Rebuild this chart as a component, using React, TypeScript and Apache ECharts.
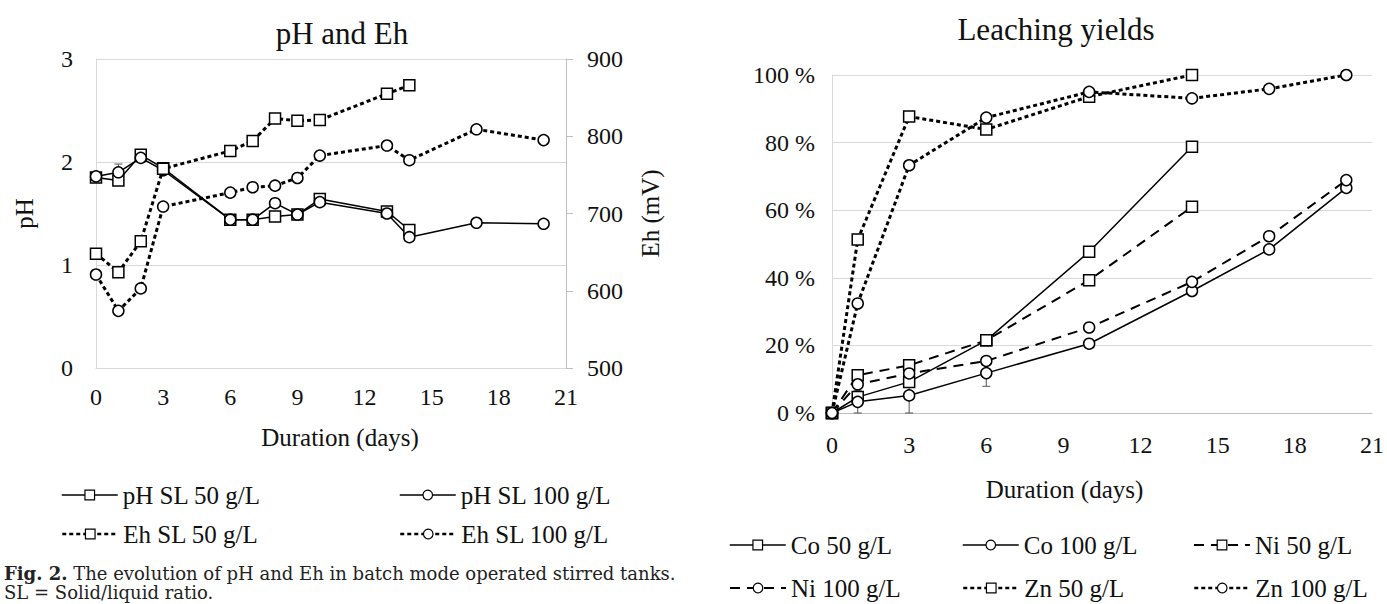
import React, { useEffect, useRef } from "react";
import * as echarts from "echarts";

// ---------- data: pH and Eh ----------
const daysSL50 = [0, 1, 2, 3, 6, 7, 8, 9, 10, 13, 14];
const daysSL100 = [0, 1, 2, 3, 6, 7, 8, 9, 10, 13, 14, 17, 20];
const pH50 = [1.85, 1.82, 2.07, 1.94, 1.44, 1.44, 1.47, 1.49, 1.64, 1.52, 1.34];
const pH100 = [1.86, 1.9, 2.04, 1.92, 1.44, 1.44, 1.6, 1.49, 1.61, 1.5, 1.27, 1.41, 1.4];
const eh50 = [648, 624, 664, 758, 781, 794, 823, 820, 821, 855, 866];
const eh100 = [621, 574, 603, 709, 727, 734, 736, 746, 775, 788, 769, 809, 795];
const pHErr100 = [[1, 1.82, 1.98]];

// ---------- data: leaching yields (%) ----------
const days50 = [0, 1, 3, 6, 10, 14];
const days100 = [0, 1, 3, 6, 10, 14, 17, 20];
const co50 = [0, 4.7, 9.2, 21.5, 47.7, 78.8];
const co100 = [0, 3.3, 5.2, 11.8, 20.5, 36.1, 48.4, 66.6];
const ni50 = [0, 11.2, 14.1, 21.5, 39.3, 61.0];
const ni100 = [0, 8.5, 11.7, 15.4, 25.3, 38.8, 52.3, 68.9];
const zn50 = [0, 51.3, 87.7, 83.9, 93.6, 100];
const zn100 = [0, 32.4, 73.3, 87.4, 95.0, 93.1, 95.9, 100];
const coErr100 = [
  [1, 0, 6.6],
  [3, 0, 10.4],
  [6, 7.9, 15.7],
];

const dayTicksInterval = 3;
const pHTicks = { min: 0, max: 3, interval: 1 };
const ehTicks = { min: 500, max: 900, interval: 100 };
const yieldTicks = { min: 0, max: 100, interval: 20 };

const FONT = "'Liberation Serif', 'Times New Roman', serif";
const CAPFONT = "'DejaVu Serif', serif";
const INK = "#111";
const GRID = "#d9d9d9";
const AXIS = "#bfbfbf";

const pair = (xs: number[], ys: number[]) => xs.map((x, i) => [x, ys[i]]);

const SOLID = { width: 1.5, type: "solid" as any };
const DOTTED = { width: 3, type: [4, 3] as any };
const DASHED = { width: 2, type: [10, 7] as any };

function lineSeries(
  name: string,
  data: number[][],
  symbol: string,
  ls: any,
  xAxisIndex: number,
  yAxisIndex: number
) {
  return {
    name,
    type: "line",
    xAxisIndex,
    yAxisIndex,
    data,
    symbol,
    symbolSize: 11,
    showSymbol: true,
    clip: false,
    z: 3,
    lineStyle: { color: "#000", width: ls.width, type: ls.type },
    itemStyle: { color: "#fff", borderColor: "#000", borderWidth: 1.5 },
    emphasis: { disabled: true },
  };
}

const errRender = (params: any, api: any) => {
  const x = api.value(0);
  const lo = api.value(1);
  const hi = api.value(2);
  const a = api.coord([x, lo]);
  const b = api.coord([x, hi]);
  const w = 4;
  const style = { stroke: "#555", lineWidth: 1 };
  return {
    type: "group",
    children: [
      { type: "line", shape: { x1: a[0], y1: a[1], x2: b[0], y2: b[1] }, style },
      { type: "line", shape: { x1: a[0] - w, y1: a[1], x2: a[0] + w, y2: a[1] }, style },
      { type: "line", shape: { x1: b[0] - w, y1: b[1], x2: b[0] + w, y2: b[1] }, style },
    ],
  };
};

const LEGEND_FS = 25;
function legendItem(name: string, left: number, centerY: number, lw: number) {
  return {
    data: [name],
    left,
    top: centerY - LEGEND_FS / 2,
    padding: 0,
    itemGap: 0,
    itemWidth: 56,
    itemHeight: 12,
    selectedMode: false,
    textStyle: { fontSize: LEGEND_FS, fontFamily: FONT, color: INK },
    lineStyle: { width: lw },
    itemStyle: { borderWidth: 1.2 },
  };
}

const axisText = { fontSize: 24, fontFamily: FONT, color: INK };
const nameText = { fontSize: 25, fontFamily: FONT, color: INK };

export default function App() {
  const ref = useRef<HTMLDivElement>(null);

  useEffect(() => {
    document.body.style.margin = "0";
    if (!ref.current) return;
    const chart = echarts.init(ref.current, undefined, { renderer: "svg" });

    const option: any = {
      animation: false,
      backgroundColor: "#fff",
      title: [
        {
          text: "pH and Eh",
          left: 342,
          top: 33,
          padding: 0,
          textAlign: "center",
          textVerticalAlign: "middle",
          textStyle: { fontSize: 31, fontWeight: "normal", fontFamily: FONT, color: INK },
        },
        {
          text: "Leaching yields",
          left: 1056,
          top: 29,
          padding: 0,
          textAlign: "center",
          textVerticalAlign: "middle",
          textStyle: { fontSize: 31, fontWeight: "normal", fontFamily: FONT, color: INK },
        },
      ],
      grid: [
        { left: 96, top: 59, width: 470, height: 309 },
        { left: 832, top: 75, width: 543, height: 338 },
      ],
      xAxis: [
        {
          gridIndex: 0,
          type: "value",
          min: 0,
          max: 21,
          interval: dayTicksInterval,
          axisLine: { show: true, lineStyle: { color: GRID, width: 1 } },
          axisTick: { show: false },
          splitLine: { show: false },
          axisLabel: { ...axisText, margin: 17 },
          name: "Duration (days)",
          nameLocation: "middle",
          nameGap: 57,
          nameTextStyle: { ...nameText, padding: [0, 0, 0, 18] },
        },
        {
          gridIndex: 1,
          type: "value",
          min: 0,
          max: 21,
          interval: dayTicksInterval,
          axisLine: { show: true, lineStyle: { color: AXIS, width: 1 } },
          axisTick: { show: false },
          splitLine: { show: false },
          axisLabel: { ...axisText, margin: 20 },
          name: "Duration (days)",
          nameLocation: "middle",
          nameGap: 64,
          nameTextStyle: { ...nameText, padding: [0, 75, 0, 0] },
        },
      ],
      yAxis: [
        {
          gridIndex: 0,
          type: "value",
          ...pHTicks,
          axisLine: { show: true, lineStyle: { color: GRID, width: 1 } },
          axisTick: { show: false },
          splitLine: { show: true, lineStyle: { color: GRID, width: 1 } },
          axisLabel: { ...axisText, margin: 23 },
          name: "pH",
          nameLocation: "middle",
          nameGap: 59,
          nameRotate: 90,
          nameTextStyle: nameText,
        },
        {
          gridIndex: 0,
          type: "value",
          position: "right",
          ...ehTicks,
          axisLine: { show: true, lineStyle: { color: AXIS, width: 1 } },
          axisTick: { show: true, inside: false, length: 7, lineStyle: { color: AXIS } },
          splitLine: { show: false },
          axisLabel: { ...axisText, margin: 21 },
          name: "Eh (mV)",
          nameLocation: "middle",
          nameGap: 72,
          nameRotate: 90,
          nameTextStyle: nameText,
        },
        {
          gridIndex: 1,
          type: "value",
          ...yieldTicks,
          axisLine: { show: true, lineStyle: { color: GRID, width: 1 } },
          axisTick: { show: false },
          splitLine: { show: true, lineStyle: { color: GRID, width: 1 } },
          axisLabel: { ...axisText, margin: 17, formatter: "{value} %" },
        },
      ],
      legend: [
        legendItem("pH SL 50 g/L", 61, 495, 1.5),
        legendItem("pH SL 100 g/L", 399, 495, 1.5),
        legendItem("Eh SL 50 g/L", 61, 534, 2.5),
        legendItem("Eh SL 100 g/L", 399, 534, 2.5),
        legendItem("Co 50 g/L", 729, 545, 1.5),
        legendItem("Co 100 g/L", 962, 545, 1.5),
        legendItem("Ni 50 g/L", 1193, 545, 2),
        legendItem("Ni 100 g/L", 729, 588, 2),
        legendItem("Zn 50 g/L", 962, 588, 2.5),
        legendItem("Zn 100 g/L", 1193, 588, 2.5),
      ],
      series: [
        {
          type: "custom",
          xAxisIndex: 0,
          yAxisIndex: 0,
          renderItem: errRender,
          data: pHErr100,
          encode: { x: 0, y: [1, 2] },
          z: 1,
          silent: true,
          clip: false,
        },
        {
          type: "custom",
          xAxisIndex: 1,
          yAxisIndex: 2,
          renderItem: errRender,
          data: coErr100,
          encode: { x: 0, y: [1, 2] },
          z: 1,
          silent: true,
          clip: false,
        },
        lineSeries("pH SL 50 g/L", pair(daysSL50, pH50), "rect", SOLID, 0, 0),
        lineSeries("pH SL 100 g/L", pair(daysSL100, pH100), "circle", SOLID, 0, 0),
        lineSeries("Eh SL 50 g/L", pair(daysSL50, eh50), "rect", DOTTED, 0, 1),
        lineSeries("Eh SL 100 g/L", pair(daysSL100, eh100), "circle", DOTTED, 0, 1),
        lineSeries("Co 50 g/L", pair(days50, co50), "rect", SOLID, 1, 2),
        lineSeries("Co 100 g/L", pair(days100, co100), "circle", SOLID, 1, 2),
        lineSeries("Ni 50 g/L", pair(days50, ni50), "rect", DASHED, 1, 2),
        lineSeries("Ni 100 g/L", pair(days100, ni100), "circle", DASHED, 1, 2),
        lineSeries("Zn 50 g/L", pair(days50, zn50), "rect", DOTTED, 1, 2),
        lineSeries("Zn 100 g/L", pair(days100, zn100), "circle", DOTTED, 1, 2),
      ],
      graphic: [
        {
          type: "text",
          x: 4,
          y: 573,
          style: {
            text: "{b|Fig. 2.} The evolution of pH and Eh in batch mode operated stirred tanks.",
            fontFamily: CAPFONT,
            fontSize: 18,
            fill: "#222",
            verticalAlign: "middle",
            rich: {
              b: { fontFamily: CAPFONT, fontSize: 18, fontWeight: "bold", fill: "#222" },
            },
          },
        },
        {
          type: "text",
          x: 4,
          y: 592,
          style: {
            text: "SL = Solid/liquid ratio.",
            fontFamily: CAPFONT,
            fontSize: 18,
            fill: "#222",
            verticalAlign: "middle",
          },
        },
      ],
    };

    chart.setOption(option);
    return () => chart.dispose();
  }, []);

  return (
    <div
      ref={ref}
      style={{ position: "absolute", left: 0, top: 0, width: 1387, height: 604, background: "#fff" }}
    />
  );
}
